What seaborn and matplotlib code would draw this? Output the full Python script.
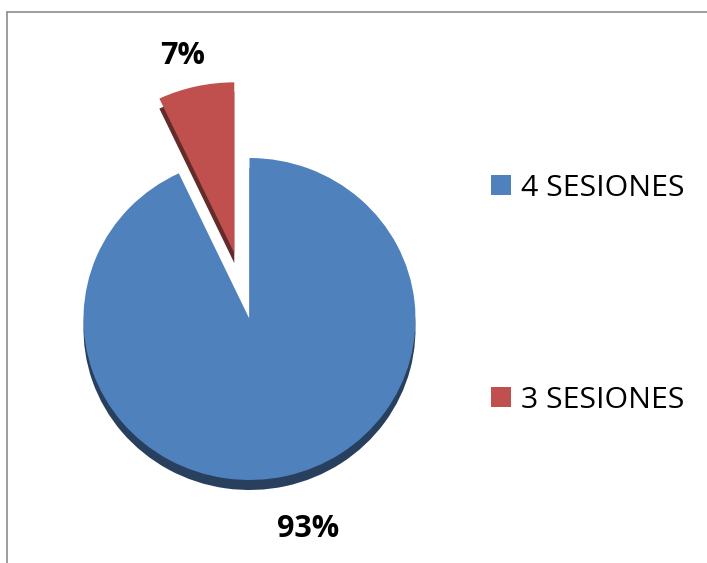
import matplotlib
matplotlib.use("Agg")
import matplotlib.pyplot as plt
from matplotlib.patches import Patch
from matplotlib.lines import Line2D
import seaborn as sns

# Data
categories = ["4 SESIONES", "3 SESIONES"]
shares = [93, 7]
face_colors = ["#4F81BD", "#C0504D"]
side_colors = ["#283F5E", "#632B29"]

sns.set_theme(style="white")
plt.rcParams["font.family"] = ["Open Sans", "DejaVu Sans"]
plt.rcParams["text.color"] = "black"

W, H, DPI = 707, 563, 100
fig = plt.figure(figsize=(W / DPI, H / DPI), dpi=DPI)
fig.patch.set_facecolor("white")
ax = fig.add_axes([0, 0, 1, 1])

# pixel geometry of the pie (centre, radii in px)
cx, cy = 249.5, 319.0
rx, ry = 166.0, 161.0
depth = 10.0 / ry

palette = sns.color_palette(face_colors)
dark = sns.color_palette(side_colors)
explode = [0.0, 0.42]

# extruded side: same pie drawn in a darker tone, shifted down
side_wedges, _ = ax.pie(shares, colors=dark, startangle=90, counterclock=False,
                        explode=explode, center=(0, -depth),
                        wedgeprops=dict(linewidth=0))
top_wedges, _ = ax.pie(shares, colors=palette, startangle=90, counterclock=False,
                       explode=explode, center=(0, 0),
                       wedgeprops=dict(linewidth=0))
for w in (side_wedges[1], top_wedges[1]):
    w.set_radius(1.06)

ax.set_aspect("auto")
ax.set_xlim(-cx / rx, (W - cx) / rx)
ax.set_ylim(-(H - cy) / ry, cy / ry)
ax.axis("off")

# percentage labels
pct = [f"{v:.0f}%" for v in shares]
fig.text(308 / W, 1 - 529 / H, pct[0], ha="center", va="center",
         fontsize=22, fontweight="bold", color="black")
fig.text(183 / W, 1 - 56 / H, pct[1], ha="center", va="center",
         fontsize=22, fontweight="bold", color="black")

# legend, one entry per row
fs = 21.8
fs_px = fs * DPI / 72
rows_y = [188, 400]
for i, (lab, col) in enumerate(zip(categories, palette)):
    leg = fig.legend([Patch(facecolor=col, edgecolor="none")], [lab],
                     loc="center left",
                     bbox_to_anchor=(491 / W, 1 - rows_y[i] / H),
                     bbox_transform=fig.transFigure,
                     frameon=False, fontsize=fs, borderpad=0, borderaxespad=0,
                     handlelength=20 / fs_px, handleheight=19 / fs_px,
                     handletextpad=10 / fs_px, labelcolor="black")

# chart area border (left and top edges)
fig.add_artist(Line2D([6.5 / W, 6.5 / W], [0, 1 - 11.5 / H],
                      transform=fig.transFigure, color="#8C8C8C", lw=1.2))
fig.add_artist(Line2D([6.5 / W, 1], [1 - 11.5 / H, 1 - 11.5 / H],
                      transform=fig.transFigure, color="#8C8C8C", lw=1.2))

fig.savefig("out.png", dpi=DPI, facecolor="white")
